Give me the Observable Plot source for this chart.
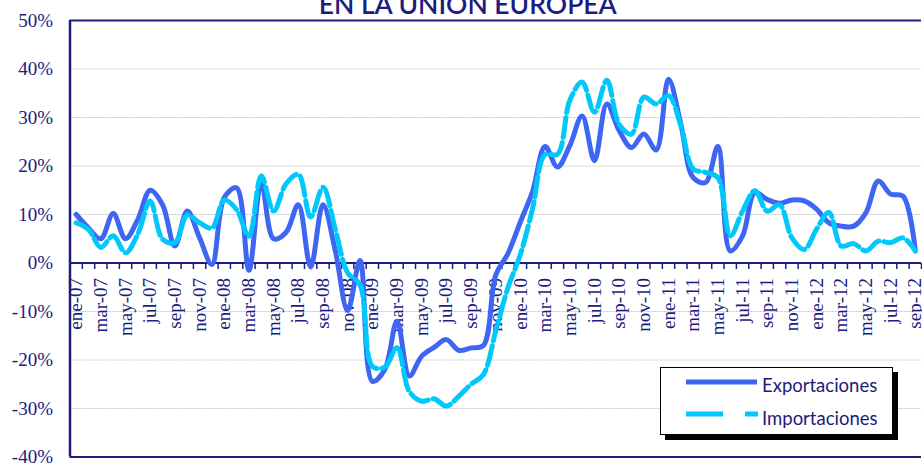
<!DOCTYPE html>
<html><head><meta charset="utf-8">
<script src="https://cdn.jsdelivr.net/npm/d3@7"></script>
<script src="https://cdn.jsdelivr.net/npm/@observablehq/plot@0.6"></script>
<style>
html,body{margin:0;padding:0;background:#fff;}
#wrap{position:relative;width:922px;height:465px;overflow:hidden;background:#fff;}
#legend{position:absolute;left:660px;top:367px;width:233px;height:68px;background:#fff;border:1px solid #000;box-shadow:5px 5px 0 #000;box-sizing:border-box;}
#legend .lbl{position:absolute;left:101px;font-family:Lato,'Open Sans',sans-serif;font-size:18.5px;color:#1c1c78;white-space:nowrap;line-height:20px;}
#legend svg{position:absolute;left:24px;}
</style></head>
<body><div id="wrap"></div>
<script>
const navy = "#1c1c80";
const blue = "#3e66f2";
const cyan = "#00c8fa";
const title = "EN LA UNIÓN EUROPEA";
const seriesNames = ["Exportaciones", "Importaciones"];
const monthAbbr = ["ene","feb","mar","abr","may","jun","jul","ago","sep","oct","nov","dic"];
const years = ["07","08","09","10","11","12"];
const months = years.flatMap(y => monthAbbr.map(m => `${m}-${y}`)).slice(0, 69);
const exportaciones = [
  10, 7.2, 5, 10.2, 5, 9, 15, 12, 3.5, 10.7, 5.2, -0.3,
  13.5, 15.5, -1.5, 16.6, 5, 6.3, 12, -0.8, 12, 2.5, -9.8, 0.5,
  -24.4, -22, -12, -23.3, -19.2, -17.4, -15.8, -18, -17.5, -17, -2.5, 2,
  8.5, 14.9, 24, 19.8, 24.2, 30.3, 21.1, 32.8, 27.3, 23.8, 26.6, 23.3,
  37.9, 28.6, 17.6, 16.6, 24, 2.5, 5.6, 14.5, 13.1, 12.3, 13, 12.8,
  11.1, 8.3, 7.6, 7.6, 10.4, 16.9, 14.2, 13.8, 2.5
];
const importaciones = [
  8.3, 6.9, 3.2, 5.6, 2.1, 6, 12.8, 4.9, 4.2, 9.9, 8.3, 7.2,
  13, 11, 5.5, 18, 10.7, 16.3, 18.3, 9.5, 15.6, 6.9, -2, -4.5,
  -21.3, -21.5, -17.5, -26.5, -28.5, -28, -29.5, -27.5, -25, -23, -14, -5,
  1.8, 11.4, 22.4, 22.4, 33.5, 37.3, 31.1, 37.7, 28.6, 26.6, 34.2, 32.8,
  34.5, 28.3, 19.4, 18.7, 17.6, 5.6, 10.7, 14.9, 10.7, 12, 5.2, 2.8,
  7, 10.4, 3.5, 4, 2.5, 4.5, 4.2, 5.2, 2.5
];
const yTicks = [-40, -30, -20, -10, 0, 10, 20, 30, 40, 50];
const gridValues = [-30, -20, -10, 10, 20, 30, 40];
const frameValues = [-40, 50];

const data = months.map((m, i) => ({i, m, exp: exportaciones[i], imp: importaciones[i]}));
const labelIdx = months.map((m, i) => i).filter(i => i % 2 === 0);
const boundaries = d3.range(0, months.length + 1).map(k => k - 0.5);
const tickSymbol = {draw(ctx) { ctx.moveTo(0, 0); ctx.lineTo(0, 6); }};

const chart = Plot.plot({
  width: 922, height: 465,
  marginLeft: 69.5, marginRight: 1, marginTop: 20, marginBottom: 8.5,
  x: {domain: [-0.5, months.length - 0.5], axis: null},
  y: {domain: [-40, 50], axis: null},
  style: {background: "#fff", fontFamily: "'Liberation Serif', 'Times New Roman', serif", overflow: "visible"},
  marks: [
    Plot.ruleY(gridValues, {stroke: "#c8c8c8", strokeWidth: 1, strokeDasharray: "2,1"}),
    Plot.ruleY(frameValues, {stroke: navy, strokeWidth: 2}),
    Plot.ruleX([-0.5], {stroke: navy, strokeWidth: 2.5}),
    Plot.ruleY([0], {stroke: navy, strokeWidth: 2}),
    Plot.dot(boundaries, {x: d => d, y: 0, symbol: tickSymbol, stroke: navy, fill: "none", strokeWidth: 1.5}),
    Plot.text(labelIdx, {x: d => d, y: 0, text: d => months[d], rotate: -90, textAnchor: "end", dy: 15, fontSize: 19, fill: navy}),
    Plot.text(yTicks, {y: d => d, frameAnchor: "left", textAnchor: "end", dx: -17, text: d => `${d}%`, fontSize: 19, fill: navy}),
    Plot.text([title], {frameAnchor: "top", lineAnchor: "bottom", dy: -7, dx: -28, text: d => d, fontSize: 26.5, fontFamily: "Lato, sans-serif", fontWeight: 600, fill: navy}),
    Plot.line(data, {x: "i", y: "exp", stroke: blue, strokeWidth: 5, curve: "catmull-rom", strokeLinejoin: "round"}),
    Plot.line(data, {x: "i", y: "imp", stroke: cyan, strokeWidth: 5, strokeDasharray: "20,5", curve: "catmull-rom", strokeLinejoin: "round"})
  ]
});
const wrap = document.getElementById("wrap");
wrap.appendChild(chart);

const legend = document.createElement("div");
legend.id = "legend";
legend.innerHTML = `
  <svg width="75" height="10" style="top:9px"><line x1="1" x2="72" y1="5" y2="5" stroke="${blue}" stroke-width="5"/></svg>
  <div class="lbl" style="top:7px">${seriesNames[0]}</div>
  <svg width="75" height="10" style="top:41px"><line x1="1" x2="73" y1="5" y2="5" stroke="${cyan}" stroke-width="5" stroke-dasharray="37,22"/></svg>
  <div class="lbl" style="top:40px">${seriesNames[1]}</div>`;
wrap.appendChild(legend);
</script>
</body></html>
